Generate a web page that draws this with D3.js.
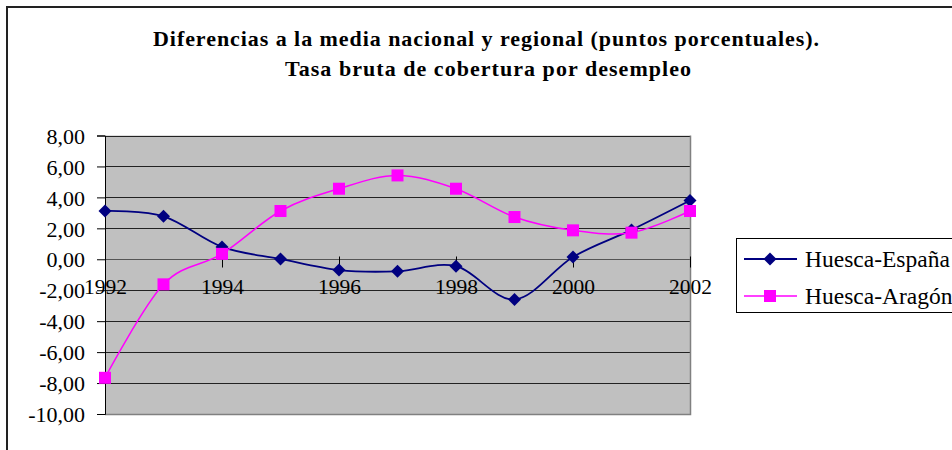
<!DOCTYPE html>
<html><head><meta charset="utf-8">
<script src="https://cdn.jsdelivr.net/npm/d3@7"></script>
<style>
html,body{margin:0;padding:0;background:#fff;overflow:hidden;}
</style></head>
<body><svg id="c" width="952" height="450"></svg>
<script>
const years = [1992,1993,1994,1995,1996,1997,1998,1999,2000,2001,2002];
const huescaEspana = [3.12,2.78,0.80,0.02,-0.70,-0.78,-0.45,-2.60,0.15,1.90,3.80];
const huescaAragon = [-7.66,-1.62,0.35,3.12,4.56,5.42,4.56,2.73,1.87,1.72,3.12];
const yTicks = [-10,-8,-6,-4,-2,0,2,4,6,8];
const yTickLabels = ["-10,00","-8,00","-6,00","-4,00","-2,00","0,00","2,00","4,00","6,00","8,00"];
const xTickLabels = [1992,1994,1996,1998,2000,2002];
const seriesNames = ["Huesca-España","Huesca-Aragón"];
const titleLines = ["Diferencias a la media nacional y regional (puntos porcentuales).","Tasa bruta de cobertura por desempleo"];

const FF = "Liberation Serif";
const svg = d3.select("#c");
const L=105, R=690, T=135.5, B=414;
const x = d3.scaleLinear().domain([1992,2002]).range([L,R]);
const y = d3.scaleLinear().domain([-10,8]).range([B,T]);

function serif(sel, size){
  return sel.attr("font-family",FF).style("font-family","'Liberation Serif'")
    .attr("font-size",size).style("font-size",size+"px").attr("fill","#000");
}

// outer frame
svg.append("rect").attr("x",7).attr("y",7).attr("width",1000).attr("height",500)
  .attr("fill","#fff").attr("stroke","#222").attr("stroke-width",2);

// title
[[46,153,666],[76,285,406]].forEach((p,i)=>{
  serif(svg.append("text"),22).attr("x",p[1]).attr("y",p[0])
    .attr("font-weight","bold").style("font-weight","bold")
    .attr("textLength",p[2]).attr("lengthAdjust","spacing").text(titleLines[i]);
});

// plot area
svg.append("rect").attr("x",L).attr("y",T).attr("width",R-L).attr("height",B-T).attr("fill","#c0c0c0");
// gridlines
svg.append("g").selectAll("line").data(yTicks.filter(d=>d!==-10)).join("line")
  .attr("x1",L).attr("x2",R).attr("y1",d=>Math.round(y(d))+0.5).attr("y2",d=>Math.round(y(d))+0.5)
  .attr("stroke",d=>d===0?"#555":"#222").attr("stroke-width",1);
// plot border right/bottom gray
svg.append("path").attr("d",`M${L},${B+0.5}H${R+0.5}V${T}`).attr("fill","none").attr("stroke","#808080").attr("stroke-width",1.5);

// y axis
const ya = d3.axisLeft(y).tickValues(yTicks).tickFormat((d,i)=>yTickLabels[i]).tickSize(8).tickPadding(12);
const gy = svg.append("g").attr("transform",`translate(${L},0)`).call(ya);
gy.attr("font-family",FF);
gy.select(".domain").attr("stroke","#000");
gy.selectAll(".tick line").attr("stroke","#000");
serif(gy.selectAll("text"),22).attr("dy","0.35em");

// x axis at zero
const xa = d3.axisBottom(x).tickValues(xTickLabels).tickFormat(d3.format("d")).tickSize(8).tickPadding(26);
const gx = svg.append("g").attr("transform",`translate(0,${Math.round(y(0))+0.5})`).call(xa);
gx.attr("font-family",FF);
gx.select(".domain").remove();
gx.selectAll(".tick line").attr("stroke","#000").attr("y1",-3);
serif(gx.selectAll("text"),21.5).attr("dy","0");

// lines
const line = d3.line().x((d,i)=>x(years[i])).y(d=>y(d)).curve(d3.curveCatmullRom.alpha(0));
svg.append("path").datum(huescaEspana).attr("d",line).attr("fill","none").attr("stroke","#000080").attr("stroke-width",1.8);
svg.append("path").datum(huescaAragon).attr("d",line).attr("fill","none").attr("stroke","#ff00ff").attr("stroke-width",1.5);

const diamond = s=>`M0,${-s}L${s},0L0,${s}L${-s},0Z`;
svg.append("g").selectAll("path").data(huescaEspana).join("path")
  .attr("d",diamond(6.5)).attr("transform",(d,i)=>`translate(${x(years[i])},${y(d)})`).attr("fill","#000080");
svg.append("g").selectAll("rect").data(huescaAragon).join("rect")
  .attr("x",(d,i)=>x(years[i])-6).attr("y",d=>y(d)-6).attr("width",12).attr("height",12).attr("fill","#ff00ff");

// legend
const lg = svg.append("g");
lg.append("rect").attr("x",736.5).attr("y",238.5).attr("width",300).attr("height",74).attr("fill","#fff").attr("stroke","#000").attr("stroke-width",1);
const legendRows = [[259,"#000080","d"],[296,"#ff00ff","s"]];
legendRows.forEach((r,i)=>{
  lg.append("line").attr("x1",744).attr("x2",797).attr("y1",r[0]).attr("y2",r[0]).attr("stroke",r[1]).attr("stroke-width",i?1.5:1.8);
  if(r[2]==="d") lg.append("path").attr("d",diamond(6.5)).attr("transform",`translate(770,${r[0]})`).attr("fill",r[1]);
  else lg.append("rect").attr("x",764).attr("y",r[0]-6).attr("width",12).attr("height",12).attr("fill",r[1]);
  serif(lg.append("text"),23.5).attr("x",805).attr("y",r[0]).attr("dy","0.35em").text(seriesNames[i]);
});
</script></body></html>
